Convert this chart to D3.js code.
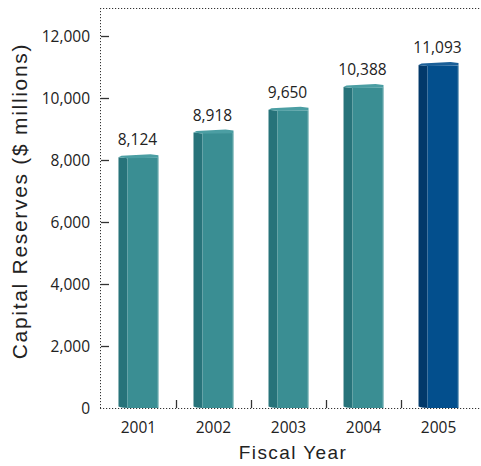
<!DOCTYPE html>
<html><head><meta charset="utf-8">
<script src="https://cdn.jsdelivr.net/npm/d3@7"></script>
<style>body{margin:0;background:#fff}svg{display:block}</style>
</head><body>
<svg id="c" width="481" height="466"></svg>
<script>
const years = ["2001","2002","2003","2004","2005"];
const values = [8124, 8918, 9650, 10388, 11093];
const yTicks = [0, 2000, 4000, 6000, 8000, 10000, 12000];
const frontColors = ["#3a8e93","#3a8e93","#3a8e93","#3a8e93","#034f8d"];
const sideColors = ["#26716f","#26716f","#26716f","#26716f","#02396a"].map((c,i)=> i<4 ? "#27737a" : c);
const topColors = ["#4b9ea3","#4b9ea3","#4b9ea3","#4b9ea3","#1a5f98"];

const svg = d3.select("#c");
const x = d3.scaleBand().domain(years).range([101, 476]).paddingInner(0.467).paddingOuter(0.233);
const y = d3.scaleLinear().domain([0, 12000]).range([408, 36]);
const fmt = d3.format(",");
const numFont = "Open Sans, Noto Sans, sans-serif";

// frame (dotted)
const dot = "1.2,1.8";
svg.append("line").attr("x1",100.5).attr("x2",100.5).attr("y1",8).attr("y2",408.5)
  .attr("stroke","#333").attr("stroke-width",1).attr("stroke-dasharray",dot);
svg.append("line").attr("x1",100).attr("x2",481).attr("y1",8.5).attr("y2",8.5)
  .attr("stroke","#333").attr("stroke-width",1).attr("stroke-dasharray",dot);
svg.append("line").attr("x1",100).attr("x2",481).attr("y1",408.5).attr("y2",408.5)
  .attr("stroke","#333").attr("stroke-width",1).attr("stroke-dasharray",dot);

// y ticks
yTicks.forEach(t => {
  if (t > 0) svg.append("line").attr("x1",101).attr("x2",109).attr("y1",Math.round(y(t))+0.5).attr("y2",Math.round(y(t))+0.5)
    .attr("stroke","#333").attr("stroke-width",1.3);
  svg.append("text").attr("x",90).attr("y",y(t)+5.5).attr("text-anchor","end")
    .attr("font-family",numFont).attr("font-size",15.5).attr("fill","#222")
    .text(fmt(t));
});

// x tick marks between bars
years.slice(1).forEach(yr => {
  const xx = Math.round(x(yr) - x.step()*x.paddingInner()/2) + 0.5;
  svg.append("line").attr("x1",xx).attr("x2",xx).attr("y1",400).attr("y2",408)
    .attr("stroke","#333").attr("stroke-width",1.3);
});

// bars
const side = 9;
years.forEach((yr, i) => {
  const x0 = x(yr), w = x.bandwidth(), top = y(values[i]), bot = 406.5;
  const g = svg.append("g");
  g.append("path").attr("d", `M ${x0} ${top+1} L ${x0+side} ${top+2} L ${x0+side} ${bot+1.5} Q ${x0+2} ${bot+1} ${x0} ${bot} Z`).attr("fill", sideColors[i]);
  g.append("rect").attr("x", x0+side).attr("y", top+1.5).attr("width", w-side).attr("height", bot - top).attr("fill", frontColors[i]);
  g.append("line").attr("x1", x0+w-0.5).attr("x2", x0+w-0.5).attr("y1", top+1).attr("y2", bot+1)
    .attr("stroke", "#9fc9cc").attr("stroke-opacity", i===4?0.4:0.6).attr("stroke-width",1);
  g.append("path").attr("d", `M ${x0} ${top+1} L ${x0+3} ${top-0.5} L ${x0+w-8} ${top-2} L ${x0+w} ${top-1} L ${x0+w} ${top+1.5} L ${x0+side} ${top+2} Z`)
    .attr("fill", topColors[i]);
  svg.append("text").attr("x", x0 + w/2 - 1).attr("y", top - 11).attr("text-anchor","middle")
    .attr("font-family",numFont).attr("font-size",15.5).attr("fill","#222")
    .text(fmt(values[i]));
  svg.append("text").attr("x", x0 + w/2).attr("y", 433).attr("text-anchor","middle")
    .attr("font-family",numFont).attr("font-size",15.5).attr("fill","#222")
    .text(yr);
});

// axis titles
svg.append("text").attr("x", 293).attr("y", 459).attr("text-anchor","middle")
  .attr("font-family","Liberation Sans, Arial, sans-serif").attr("font-size",19).attr("fill","#222")
  .attr("letter-spacing",1.4).text("Fiscal Year");
svg.append("text").attr("transform","translate(27,201) rotate(-90)").attr("text-anchor","middle")
  .attr("font-family","Liberation Sans, Arial, sans-serif").attr("font-size",21).attr("fill","#222")
  .attr("letter-spacing",1.7).text("Capital Reserves ($ millions)");
</script>
</body></html>
